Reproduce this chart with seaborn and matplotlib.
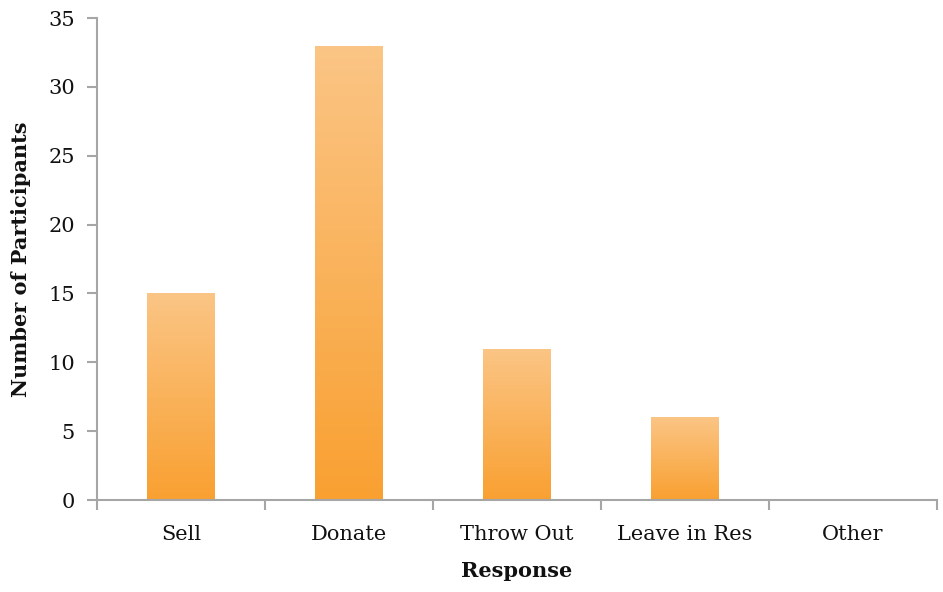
import matplotlib
matplotlib.use("Agg")
import matplotlib.pyplot as plt
import numpy as np
import pandas as pd
import seaborn as sns
from matplotlib.colors import LinearSegmentedColormap

responses = ["Sell", "Donate", "Throw Out", "Leave in Res", "Other"]
participants = [15, 33, 11, 6, 0]

df = pd.DataFrame({"Response": responses, "Participants": participants})

sns.set_theme(style="white")
plt.rcParams["font.family"] = ["DejaVu Serif"]
plt.rcParams["text.color"] = "#111111"
plt.rcParams["xtick.labelcolor"] = "#111111"
plt.rcParams["ytick.labelcolor"] = "#111111"
plt.rcParams["axes.labelcolor"] = "#111111"

fig = plt.figure(figsize=(9.43, 5.92), dpi=100)
ax = fig.add_axes([97 / 943, 92 / 592, 840 / 943, 482 / 592])

sns.barplot(data=df, x="Response", y="Participants", color="#F9A031",
            width=0.40, ax=ax)

# gradient fill on each bar (light top, darker bottom)
cmap = LinearSegmentedColormap.from_list("grad", ["#F9A031", "#FBC585"])
grad = np.linspace(0, 1, 256).reshape(-1, 1)
for bar in ax.patches:
    x0, y0 = bar.get_x(), bar.get_y()
    w, h = bar.get_width(), bar.get_height()
    if h <= 0:
        continue
    bar.set_facecolor("none")
    bar.set_edgecolor("none")
    im = ax.imshow(grad, cmap=cmap, origin="lower", aspect="auto",
                   extent=[x0, x0 + w, y0, y0 + h], zorder=2)
    im.set_clip_path(bar)

ax.set_xlim(-0.5, len(responses) - 0.5)
ax.set_ylim(0, 35)
ax.set_yticks(range(0, 36, 5))
ax.set_xticks(np.arange(len(responses)))
ax.set_xticklabels(responses)
ax.set_xticks(np.arange(len(responses) + 1) - 0.5, minor=True)

for side in ["top", "right"]:
    ax.spines[side].set_visible(False)
for side in ["left", "bottom"]:
    ax.spines[side].set_color("#A6A6A6")
    ax.spines[side].set_linewidth(1.5)

ax.tick_params(axis="y", which="major", left=True, length=7, width=1.5,
               color="#A6A6A6", labelsize=15, pad=9)
ax.tick_params(axis="x", which="major", bottom=False, labelsize=15, pad=12)
ax.tick_params(axis="x", which="minor", bottom=True, length=7, width=1.5,
               color="#A6A6A6")

ax.set_xlabel("Response", fontsize=15, fontweight="bold", labelpad=12)
ax.set_ylabel("Number of Participants", fontsize=15, fontweight="bold", labelpad=12)

fig.savefig("out.png", dpi=100)
